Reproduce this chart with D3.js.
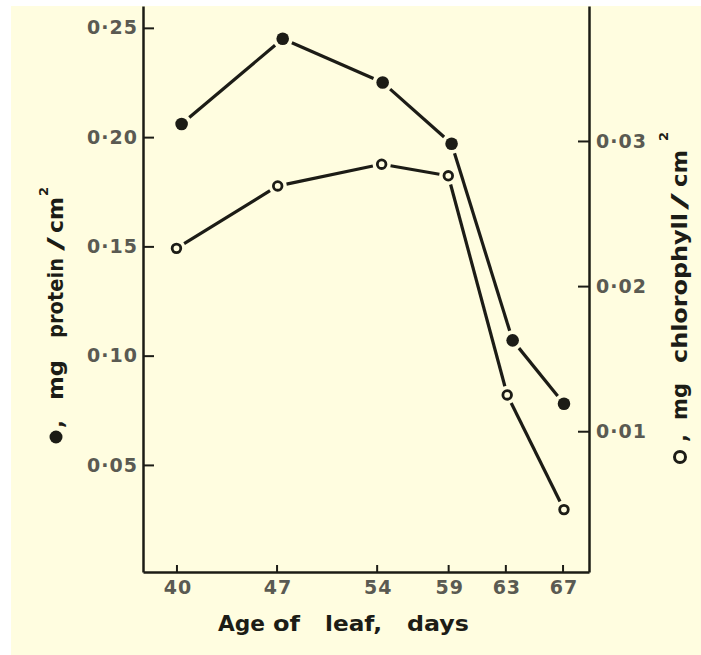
<!DOCTYPE html>
<html>
<head>
<meta charset="utf-8">
<script src="https://cdn.jsdelivr.net/npm/d3@7"></script>
<style>
  html, body { margin: 0; padding: 0; background: #ffffff; }
  svg { display: block; }
  text { font-family: "DejaVu Sans", sans-serif; }
</style>
</head>
<body>
<script>
// Leaf age (days) shown on the x axis
const dayTicks = [40, 47, 54, 59, 63, 67];

// ● protein, mg/cm² (left axis)
const proteinDays = [40.36, 47.43, 54.42, 59.24, 63.51, 67.10];
const proteinValues = [0.206, 0.245, 0.225, 0.197, 0.107, 0.078];

// ○ chlorophyll, mg/cm² (right axis)
const chlorophyllDays = [40.0, 47.08, 54.35, 59.01, 63.13, 67.10];
const chlorophyllValues = [0.0226, 0.0269, 0.0284, 0.0276, 0.0125, 0.0046];

// Axis tick values
const proteinTicks = [0.05, 0.10, 0.15, 0.20, 0.25];
const chlorophyllTicks = [0.01, 0.02, 0.03];

const W = 701, H = 655;
const ink = "#1c1c16";
const paper = "#fffde0";
const tickInk = "#5a5a52";

const svg = d3.select("body").append("svg")
  .attr("width", W).attr("height", H);

svg.append("rect").attr("width", W).attr("height", H).attr("fill", "#ffffff");
svg.append("rect").attr("x", 11).attr("y", 6).attr("width", W - 11).attr("height", H - 6)
  .attr("fill", paper);

const plot = { left: 143, right: 589, top: 6, bottom: 572 };

const x = d3.scaleLinear().domain([37.66, 68.85]).range([plot.left, plot.right]);
const yP = d3.scaleLinear().domain([0.001, 0.26]).range([plot.bottom, plot.top]);
const yC = d3.scaleLinear().domain([0.0003, 0.0393]).range([plot.bottom, plot.top]);

const fmt = v => d3.format(".2f")(v).replace(".", "·");

function styleAxis(g) {
  g.select(".domain").attr("stroke", ink).attr("stroke-width", 2.5);
  g.selectAll(".tick line").attr("stroke", ink).attr("stroke-width", 2);
  g.selectAll(".tick text")
    .attr("fill", tickInk)
    .style("font-size", "19px")
    .style("font-weight", "bold")
    .style("letter-spacing", "1px")
    .style("font-family", "DejaVu Sans, sans-serif");
}

// left axis (protein), ticks pointing inward
svg.append("g")
  .attr("transform", `translate(${plot.left},0)`)
  .call(d3.axisLeft(yP).tickValues(proteinTicks).tickFormat(fmt)
    .tickSizeInner(-11).tickSizeOuter(0).tickPadding(4))
  .call(styleAxis)
  .call(g => g.selectAll(".tick text").attr("x", -5));

// right axis (chlorophyll), ticks pointing inward
svg.append("g")
  .attr("transform", `translate(${plot.right},0)`)
  .call(d3.axisRight(yC).tickValues(chlorophyllTicks).tickFormat(fmt)
    .tickSizeInner(-11).tickSizeOuter(0).tickPadding(7))
  .call(styleAxis);

// bottom axis (days)
svg.append("g")
  .attr("transform", `translate(0,${plot.bottom})`)
  .call(d3.axisBottom(x).tickValues(dayTicks).tickFormat(d3.format("d"))
    .tickSizeInner(-7).tickSizeOuter(0).tickPadding(9))
  .call(styleAxis)
  .call(g => g.selectAll(".tick text").attr("dx", "1px"));

// connecting segments stop short of the markers
function drawSeries(days, values, yScale, gap) {
  const pts = days.map((d, i) => [x(d), yScale(values[i])]);
  const segs = d3.pairs(pts).map(([a, b]) => {
    const dx = b[0] - a[0], dy = b[1] - a[1];
    const len = Math.hypot(dx, dy);
    const ux = dx / len, uy = dy / len;
    return [a[0] + ux * gap, a[1] + uy * gap, b[0] - ux * gap, b[1] - uy * gap];
  });
  svg.append("g").selectAll("line").data(segs).join("line")
    .attr("x1", s => s[0]).attr("y1", s => s[1])
    .attr("x2", s => s[2]).attr("y2", s => s[3])
    .attr("stroke", ink).attr("stroke-width", 3.2).attr("stroke-linecap", "butt");
  return pts;
}

const pP = drawSeries(proteinDays, proteinValues, yP, 10);
const pC = drawSeries(chlorophyllDays, chlorophyllValues, yC, 9);

svg.append("g").selectAll("circle").data(pP).join("circle")
  .attr("cx", p => p[0]).attr("cy", p => p[1]).attr("r", 6.3)
  .attr("fill", ink);

svg.append("g").selectAll("circle").data(pC).join("circle")
  .attr("cx", p => p[0]).attr("cy", p => p[1]).attr("r", 4.3)
  .attr("fill", paper).attr("stroke", ink).attr("stroke-width", 2.8);

// axis titles
const titleStyle = sel => sel
  .attr("fill", ink).style("font-weight", "bold").style("font-size", "21px");

function rotatedTitle(baseX, words, sup, markerY, filled) {
  const g = svg.append("g").attr("transform", `translate(${baseX},0) rotate(-90)`);
  g.append("circle")
    .attr("cx", -markerY).attr("cy", -7).attr("r", filled ? 6.5 : 5.5)
    .attr("fill", filled ? ink : paper)
    .attr("stroke", ink).attr("stroke-width", filled ? 0 : 3);
  words.forEach(w => {
    const t = g.append("text").attr("x", -w.at).attr("y", 0).text(w.t).call(titleStyle);
    if (w.len) t.attr("textLength", w.len).attr("lengthAdjust", "spacingAndGlyphs");
  });
  g.append("text").attr("x", -sup.at).attr("y", sup.dy).text("2")
    .attr("fill", ink).style("font-weight", "bold").style("font-size", "13px");
}

rotatedTitle(63, [
  { t: ",", at: 428 },
  { t: "mg", at: 400, len: 40 },
  { t: "protein", at: 338, len: 80 },
  { t: "/", at: 251, len: 14 },
  { t: "cm", at: 233, len: 36 }
], { at: 196, dy: -15 }, 437, true);

rotatedTitle(687, [
  { t: ",", at: 442 },
  { t: "mg", at: 420, len: 37 },
  { t: "chlorophyll", at: 363, len: 150 },
  { t: "/", at: 210, len: 17 },
  { t: "cm", at: 187, len: 37 }
], { at: 141, dy: -19 }, 457, false);

const xTitle = [
  { t: "Age", at: 218, len: 47 },
  { t: "of", at: 273, len: 27 },
  { t: "leaf,", at: 325, len: 57 },
  { t: "days", at: 407, len: 62 }
];
xTitle.forEach(w => {
  svg.append("text").attr("x", w.at).attr("y", 631).text(w.t)
    .attr("textLength", w.len).attr("lengthAdjust", "spacingAndGlyphs")
    .attr("fill", ink).style("font-weight", "bold").style("font-size", "22px");
});
</script>
</body>
</html>
